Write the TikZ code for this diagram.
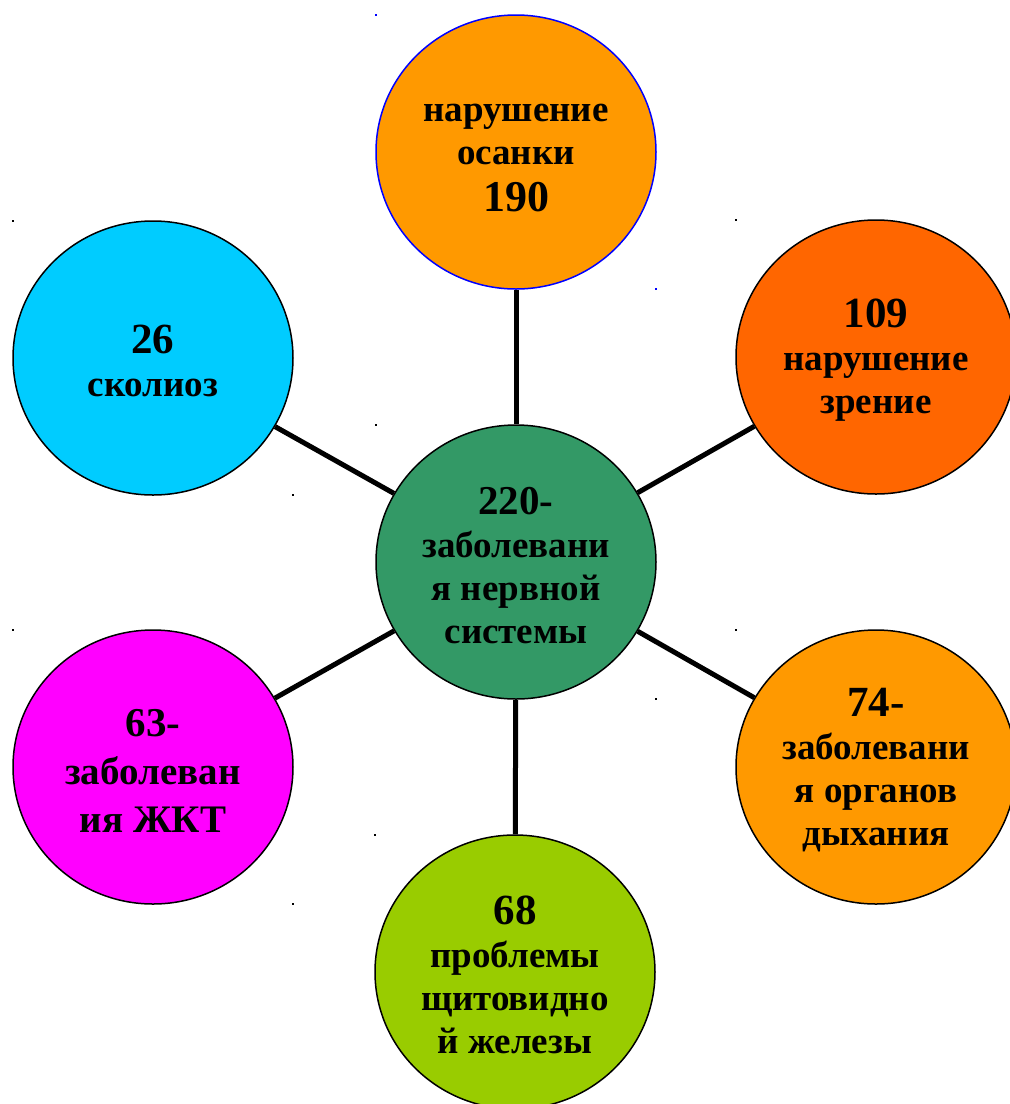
\documentclass[tikz,border=0pt]{standalone}
\usepackage{fontspec}
\setmainfont{Liberation Serif}
\usetikzlibrary{shapes.geometric,backgrounds}
\definecolor{postureorange}{HTML}{FF9900}
\definecolor{visionorange}{HTML}{FF6600}
\definecolor{scoliosiscyan}{HTML}{00CCFF}
\definecolor{nervegreen}{HTML}{339966}
\definecolor{gimagenta}{HTML}{FF00FF}
\definecolor{thyroidlime}{HTML}{99CC00}
\newcommand{\bignum}[2][43]{{\fontsize{#1}{44}\selectfont\rule{0pt}{35pt}#2}}

\begin{document}
\begin{tikzpicture}[x=1pt,y=-1pt,
  bubble/.style={ellipse,draw=black,line width=1.5pt,minimum width=280pt,
    minimum height=274pt,inner sep=0pt,align=center,
    font=\fontsize{37}{43}\selectfont\bfseries},
  spoke/.style={line width=5pt}]
\useasboundingbox (0,0) rectangle (1010,1104);
\node[bubble,fill=postureorange,draw=blue] (posture) at (516,152)
  {\rule{0pt}{29pt}нарушение\\осанки\\[4pt]{\fontsize{44}{48}\selectfont 190}};
\node[bubble,fill=visionorange] (vision) at (876,357) {\bignum{109}\\нарушение\\зрение};
\node[bubble,fill=scoliosiscyan] (scoliosis) at (153,358) {\bignum{26}\\сколиоз};
\node[bubble,fill=nervegreen] (nerve) at (516,562)
  {\bignum[41]{220-}\\заболевани\\я нервной\\системы};
\node[bubble,fill=gimagenta,font=\fontsize{39}{48}\selectfont\bfseries] (gi) at (153,767)
  {\bignum[41]{63-}\\заболеван\\ия ЖКТ};
\node[bubble,fill=postureorange] (breath) at (876,767)
  {\bignum{74-}\\заболевани\\я органов\\дыхания};
\node[bubble,fill=thyroidlime] (thyroid) at (515,972)
  {\bignum{68}\\проблемы\\щитовидно\\й железы};
\begin{scope}[on background layer]
\foreach \n in {posture,vision,scoliosis,gi,breath,thyroid}
  \draw[spoke] (nerve) -- (\n);
\end{scope}
\foreach \n/\c in {posture/blue,vision/black,scoliosis/black,nerve/black,gi/black,breath/black,thyroid/black}{
  \fill[\c] (\n.north -| \n.west) rectangle ++(2,2);
  \fill[\c] (\n.south -| \n.east) rectangle ++(-2,-2);
}
\end{tikzpicture}
\end{document}
